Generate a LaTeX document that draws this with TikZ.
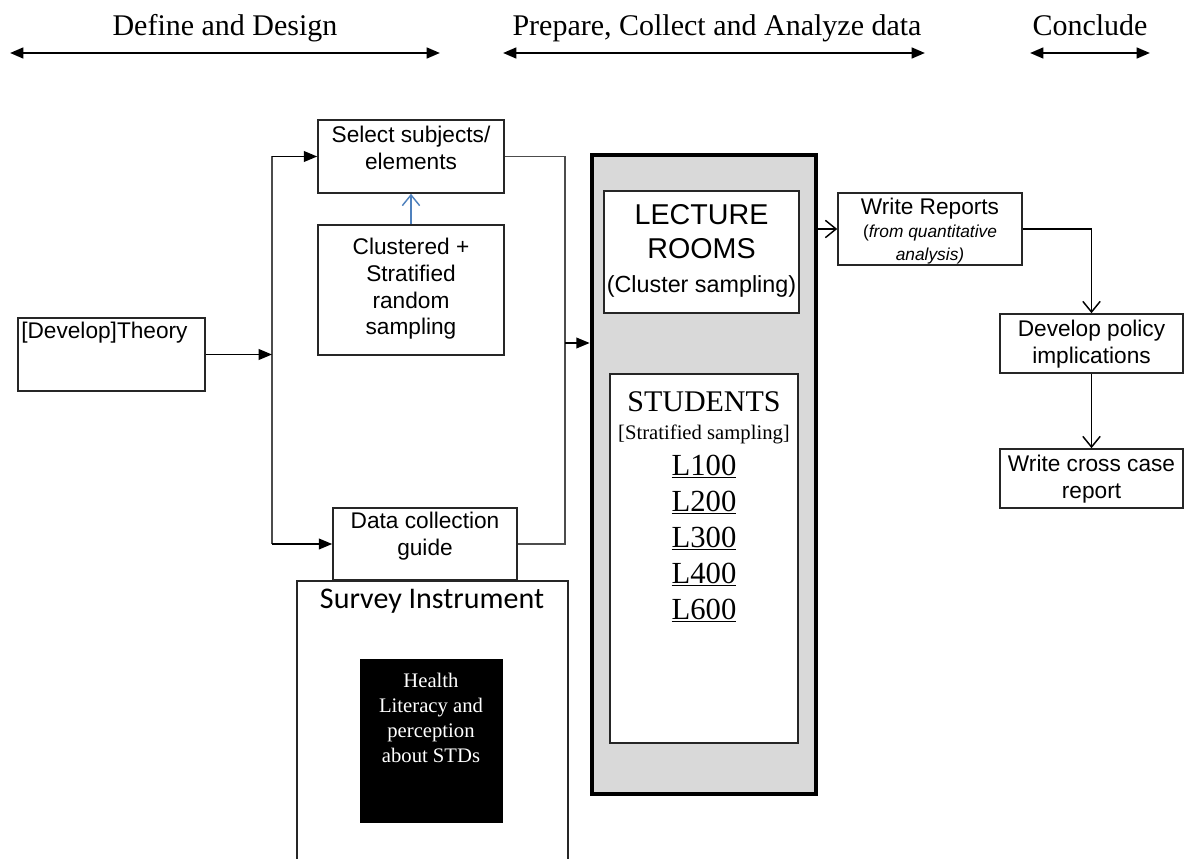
\documentclass[tikz,border=0pt]{standalone}
\usepackage{fontspec}
\setmainfont{Liberation Serif}
\setsansfont{Liberation Sans}
\newfontfamily\calibri{Carlito}
\usepackage{tikz}
\usetikzlibrary{
  arrows.meta,
  calc,
  positioning,
  fit
}
\definecolor{framegray}{RGB}{217,217,217}
\definecolor{linkblue}{RGB}{79,129,189}

\begin{document}
\begin{tikzpicture}[x=0.75pt, y=-0.75pt,
  box/.style={draw=black!85, line width=1.2pt, fill=white, inner sep=0pt},
  txt/.style={font=\sffamily\fontsize{17}{20}\selectfont, align=center, inner sep=0pt},
  serif/.style={font=\rmfamily\fontsize{22.5}{26}\selectfont, inner sep=0pt},
  span/.style={{Triangle[length=10pt,width=8pt]}-{Triangle[length=10pt,width=8pt]}, line width=1.8pt},
  arr/.style={-{Triangle[length=10pt,width=8pt]}, line width=1.3pt},
  open/.style={-{Straight Barb[length=8pt,width=13pt]}, line width=1.1pt},
  wire/.style={line width=1.4pt, draw=black!70}
]
\useasboundingbox (0,0) rectangle (1192,859);
\clip (0,0) rectangle (1192,859);

% Phase headers
\node[serif, anchor=base] (define) at (225,36) {Define and Design};
\node[serif, anchor=base] (prepare) at (717,36) {Prepare, Collect and Analyze data};
\node[serif, anchor=base] (conclude) at (1090,36) {Conclude};
\coordinate (define-l) at (10,53);
\coordinate (define-r) at (440,53);
\coordinate (prepare-l) at (503,53);
\coordinate (prepare-r) at (925,53);
\coordinate (conclude-l) at (1030,53);
\coordinate (conclude-r) at (1150,53);
\draw[span] (define-l) -- (define-r);
\draw[span] (prepare-l) -- (prepare-r);
\draw[span] (conclude-l) -- (conclude-r);

% Define and design
\node[box, fit={(18,318) (205,391)}] (theory) {};
\node[txt, anchor=west] (theory-t) at (21,333) {[Develop]Theory};

\node[box, fit={(318,120) (504,193)}] (select) {};
\node[txt] (select-t) at (411,148) {Select subjects/\\elements};

\node[box, fit={(318,225) (504,355)}] (cluster) {};
\node[txt] (cluster-t) at (411,289) {Clustered +\\Stratified\\random\\sampling};
\draw[open, linkblue] (cluster) -- (select);

\node[box, fit={(297,581) (568,880)}] (survey) {};
\node[font=\calibri\fontsize{22.5}{26}\selectfont, inner sep=0pt] (survey-t) at (432,601) {Survey Instrument};
\node[fill=black, draw=black, inner sep=0pt, fit={(360,659) (502,822)}] (health) {};
\node[font=\rmfamily\fontsize{15.5}{18.75}\selectfont, text=white, align=center, inner sep=0pt]
  (health-t) at (431,718) {Health\\Literacy and\\perception\\about STDs};

\node[box, fit={(333,508) (517,580)}] (data) {};
\node[txt] (data-t) at (425,536) {Data collection\\guide};

% fork from theory
\coordinate (fork) at (272,354.5);
\coordinate (fork-top) at (272,156.5);
\coordinate (fork-bot) at (272,544);
\draw[wire] (fork-top) -- (fork-bot);
\draw[arr] (theory) -- (fork);
\draw[arr] (fork-top) -- (select);
\draw[arr] (fork-bot) -- (data);

% Prepare, collect and analyze
\node[fit={(592,155) (816,794)}, draw, line width=3.5pt, fill=framegray, inner sep=0pt] (frame) {};
\node[box, fit={(604,191) (799,313)}] (lecture) {};
\node[font=\sffamily\fontsize{21.5}{25.5}\selectfont, align=center, inner sep=0pt] (lecture-t) at (701.5,251)
  {LECTURE\\ROOMS\\{\fontsize{17.5}{21}\selectfont(Cluster sampling)}};
\node[box, fit={(610,374) (798,743)}] (students) {};
\node[serif, anchor=base] (stud-t) at (704,411) {STUDENTS};
\node[font=\rmfamily\fontsize{15.5}{18}\selectfont, inner sep=0pt, anchor=base] (stud-note) at (704,439) {[Stratified sampling]};
\foreach \lvl [count=\i from 0] in {100,200,300,400,600}
  \node[font=\rmfamily\fontsize{23}{26}\selectfont, inner sep=0pt, anchor=base] (L\lvl) at (704,475+36*\i) {\underline{L\lvl}};

\coordinate (merge-top) at (565,156.5);
\coordinate (merge-bot) at (565,544);
\coordinate (merge) at (565,343);
\draw[wire] (select) -- (merge-top) -- (merge-bot) -- (data);
\draw[arr] (merge) -- (merge -| frame.west);

% Conclude
\node[box, fit={(838,193) (1022,265)}] (reports) {};
\node[txt, font=\sffamily\fontsize{13}{17.5}\selectfont] (reports-t) at (930,231)
  {{\fontsize{17}{20}\selectfont Write Reports}\\(\textit{from quantitative}\\\textit{analysis)}};
\node[box, fit={(1000,314) (1183,373)}] (policy) {};
\node[txt] (policy-t) at (1091.5,344) {Develop policy\\implications};
\node[box, fit={(1000,449) (1183,508)}] (cross) {};
\node[txt] (cross-t) at (1091.5,479) {Write cross case\\report};

\draw[open] (frame.east |- reports) -- (reports);
\draw[open] (reports) -| (policy);
\draw[open] (policy) -- (cross);

\end{tikzpicture}
\end{document}
